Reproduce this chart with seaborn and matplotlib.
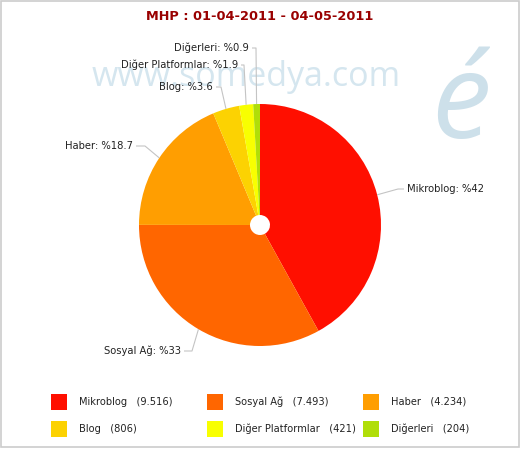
import matplotlib
matplotlib.use('Agg')
import numpy as np
import matplotlib.pyplot as plt
import seaborn as sns
from matplotlib.patches import Rectangle

# data
categories = ['Mikroblog', 'Sosyal Ağ', 'Haber', 'Blog', 'Diğer Platformlar', 'Diğerleri']
counts = [9516, 7493, 4234, 806, 421, 204]
percent_labels = ['%42', '%33', '%18.7', '%3.6', '%1.9', '%0.9']
colors = ['#FF0F00', '#FF6600', '#FF9E01', '#FCD202', '#F8FF01', '#B0DE09']
title = 'MHP : 01-04-2011 - 04-05-2011'

sns.set_style('white')
plt.rcParams['font.family'] = ['DejaVu Sans']

fig = plt.figure(figsize=(5.2, 4.5), dpi=100)
ax = fig.add_axes([0, 0, 1, 1])

cx, cy, r = 260, 225, 121
wedges, _ = ax.pie(counts, colors=colors, startangle=-90, counterclock=True,
                   center=(cx, cy), radius=r,
                   wedgeprops=dict(width=r - 10, linewidth=0))
ax.set_xlim(0, 520)
ax.set_ylim(450, 0)
ax.set_aspect('equal')
ax.axis('off')

# watermark
ax.text(92, 86, 'www.somedya.com', fontsize=24.5, color='#d5e6ef',
        family='Open Sans', ha='left', va='baseline', zorder=0)
ax.text(461, 138, 'é', fontsize=86, color='#cde0ea', family='Open Sans',
        style='italic', ha='center', va='baseline', zorder=0)

# label positions (text anchor x, y, side) and elbow of the connector
label_pos = [(407, 189, 'left'), (181, 351, 'right'), (133, 146, 'right'),
             (213, 87, 'right'), (238, 65, 'right'), (249, 48, 'right')]
elbow_x = [398, 192, 145, 221, 244, 256]

for w, name, pct, (tx, ty, side), ex in zip(wedges, categories, percent_labels, label_pos, elbow_x):
    mid = np.deg2rad((w.theta1 + w.theta2) / 2)
    px = cx + r * np.cos(mid)
    py = cy + r * np.sin(mid)
    gap = 3 if side == 'left' else -3
    ax.plot([px, ex, tx - gap], [py, ty, ty], color='#c4c4c4', lw=0.8,
            zorder=1, solid_capstyle='butt')
    ax.text(tx, ty, f'{name}: {pct}', fontsize=7.2, color='#222222',
            ha=side, va='center')

# title
ax.text(260, 16, title, fontsize=9.3, fontweight='bold', color='#990000',
        ha='center', va='center')

# legend
for i, (name, val, c) in enumerate(zip(categories, counts, colors)):
    col, row = i % 3, i // 3
    x0 = 51 + 156 * col
    y0 = 402 + 27 * row
    ax.add_patch(Rectangle((x0, y0 - 8), 16, 16, facecolor=c, edgecolor='none'))
    val_txt = f'{val:,}'.replace(',', '.')
    ax.text(x0 + 28, y0, f'{name}   ({val_txt})', fontsize=7.1,
            color='#222222', ha='left', va='center')

# border
ax.add_patch(Rectangle((0.5, 0.5), 518, 446.5, facecolor='none',
                       edgecolor='#cccccc', lw=1.2))

fig.savefig('out.png', dpi=100)
